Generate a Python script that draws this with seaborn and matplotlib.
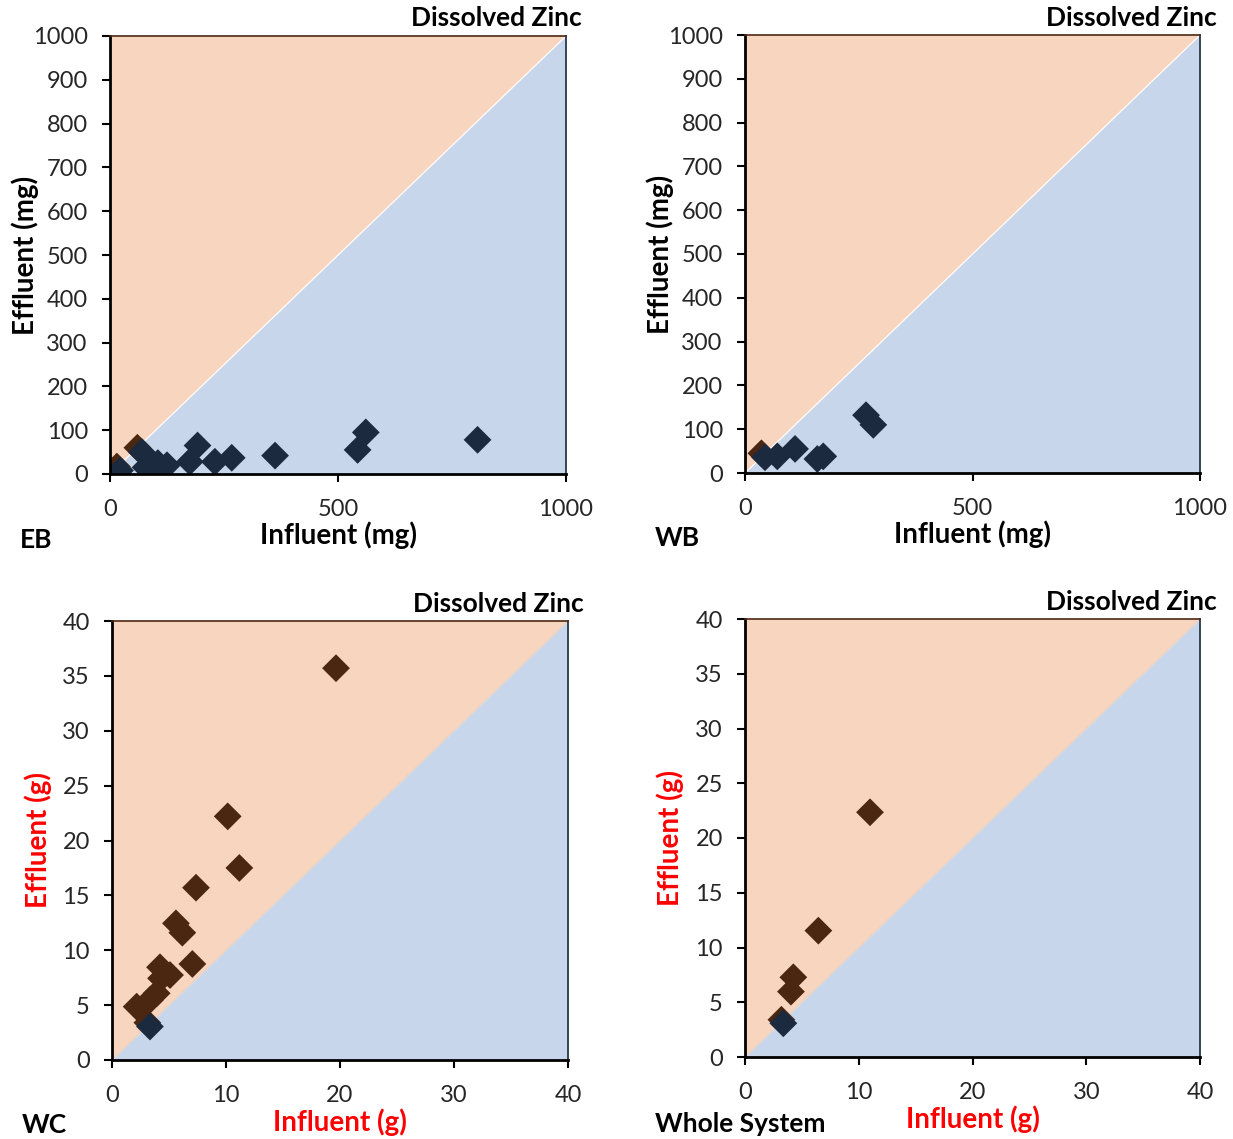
import matplotlib
matplotlib.use("Agg")
import matplotlib.pyplot as plt
import seaborn as sns
import pandas as pd

sns.set_theme(style="white")
plt.rcParams['font.family'] = ['Lato', 'DejaVu Sans']

# ---- data ----
eb_navy_x = [22, 70, 78, 95, 105, 110, 125, 175, 192, 230, 267, 362, 543, 561, 806]
eb_navy_y = [8, 50, 15, 20, 25, 10, 20, 28, 65, 28, 37, 42, 55, 95, 78]
eb_brown_x = [15, 60]
eb_brown_y = [17, 60]

wb_navy_x = [44, 71, 110, 159, 172, 266, 282]
wb_navy_y = [36, 38, 55, 32, 38, 132, 110]
wb_brown_x = [36]
wb_brown_y = [45]

wc_brown_x = [19.65, 10.15, 11.17, 7.37, 5.61, 6.17, 7.05, 4.21, 5.09, 4.3, 3.92, 3.33, 2.16, 3.1]
wc_brown_y = [35.7, 22.2, 17.5, 15.7, 12.45, 11.6, 8.75, 8.45, 7.74, 7.44, 6.08, 5.47, 4.86, 3.4]
wc_navy_x = [3.33]
wc_navy_y = [3.05]

ws_brown_x = [10.99, 6.45, 4.25, 4.04, 3.2]
ws_brown_y = [22.35, 11.54, 7.28, 5.97, 3.4]
ws_navy_x = [3.37]
ws_navy_y = [3.08]

ORANGE = "#F8D5BE"
BLUE = "#C7D6EB"
NAVY = "#1B2A3F"
BROWN = "#4B2610"

W, H = 1233, 1139
fig = plt.figure(figsize=(W / 100, H / 100), dpi=100)


def ax_at(l, t, r, b):
    return fig.add_axes([l / W, 1 - b / H, (r - l) / W, (b - t) / H])


panels = [
    dict(box=(110, 36, 566, 474), lim=1000, xt=[0, 500, 1000], yt=list(range(0, 1001, 100)),
         unit="mg", red=False, bx=eb_brown_x, by=eb_brown_y, nx=eb_navy_x, ny=eb_navy_y,
         name="EB", name_xy=(20, 540), ylab_x=25, xlab_y=535, title_xy=(582, 18)),
    dict(box=(745, 35, 1200, 473), lim=1000, xt=[0, 500, 1000], yt=list(range(0, 1001, 100)),
         unit="mg", red=False, bx=wb_brown_x, by=wb_brown_y, nx=wb_navy_x, ny=wb_navy_y,
         name="WB", name_xy=(655, 538), ylab_x=660, xlab_y=534, title_xy=(1217, 18)),
    dict(box=(112, 621, 568, 1060), lim=40, xt=[0, 10, 20, 30, 40], yt=list(range(0, 41, 5)),
         unit="g", red=True, bx=wc_brown_x, by=wc_brown_y, nx=wc_navy_x, ny=wc_navy_y,
         name="WC", name_xy=(22, 1125), ylab_x=38, xlab_y=1122, title_xy=(584, 604)),
    dict(box=(745, 619, 1200, 1057), lim=40, xt=[0, 10, 20, 30, 40], yt=list(range(0, 41, 5)),
         unit="g", red=True, bx=ws_brown_x, by=ws_brown_y, nx=ws_navy_x, ny=ws_navy_y,
         name="Whole System", name_xy=(655, 1124), ylab_x=670, xlab_y=1119, title_xy=(1217, 602)),
]

for p in panels:
    l, t, r, b = p["box"]
    ax = ax_at(l, t, r, b)
    lim = p["lim"]
    ax.set_xlim(0, lim)
    ax.set_ylim(0, lim)
    ax.fill_between([0, lim], [0, lim], [lim, lim], color=ORANGE, lw=0, zorder=0)
    ax.fill_between([0, lim], [0, 0], [0, lim], color=BLUE, lw=0, zorder=0)
    ax.plot([0, lim], [0, lim], color="#E3D3C8" if p["red"] else "white", lw=0.8, zorder=1)

    dfb = pd.DataFrame({"x": p["bx"], "y": p["by"]})
    dfn = pd.DataFrame({"x": p["nx"], "y": p["ny"]})
    sns.scatterplot(data=dfb, x="x", y="y", ax=ax, marker="D", s=200, color=BROWN,
                    edgecolor="none", linewidth=0, zorder=3)
    sns.scatterplot(data=dfn, x="x", y="y", ax=ax, marker="D", s=200, color=NAVY,
                    edgecolor="none", linewidth=0, zorder=4)

    ax.set_xticks(p["xt"])
    ax.set_yticks(p["yt"])
    ax.tick_params(axis="x", direction="out", length=6, width=1.5, color="black",
                   labelsize=17, pad=12, bottom=True)
    ax.tick_params(axis="y", direction="out", length=6, width=1.5, color="black",
                   labelsize=17, pad=10, left=True)
    for s in ["left", "bottom"]:
        ax.spines[s].set_color("black")
        ax.spines[s].set_linewidth(2)
    ax.spines["top"].set_color(BROWN)
    ax.spines["top"].set_linewidth(1.2)
    ax.spines["right"].set_color(NAVY)
    ax.spines["right"].set_linewidth(1.2)
    for sp in ax.spines.values():
        sp.set_zorder(5)

    lc = "red" if p["red"] else "black"
    ax.set_xlabel("")
    ax.set_ylabel("")
    fig.text(((l + r) / 2) / W, 1 - p["xlab_y"] / H, f"Influent ({p['unit']})",
             ha="center", va="center", fontsize=20, fontweight="bold", color=lc)
    fig.text(p["ylab_x"] / W, 1 - ((t + b) / 2) / H, f"Effluent ({p['unit']})",
             ha="center", va="center", rotation=90, fontsize=20, fontweight="bold", color=lc)
    fig.text(p["name_xy"][0] / W, 1 - p["name_xy"][1] / H, p["name"],
             ha="left", va="center", fontsize=19, fontweight="bold", color="black")
    fig.text(p["title_xy"][0] / W, 1 - p["title_xy"][1] / H, "Dissolved Zinc",
             ha="right", va="center", fontsize=19, fontweight="bold", color="black")

fig.savefig("out.png", dpi=100, facecolor="white")
